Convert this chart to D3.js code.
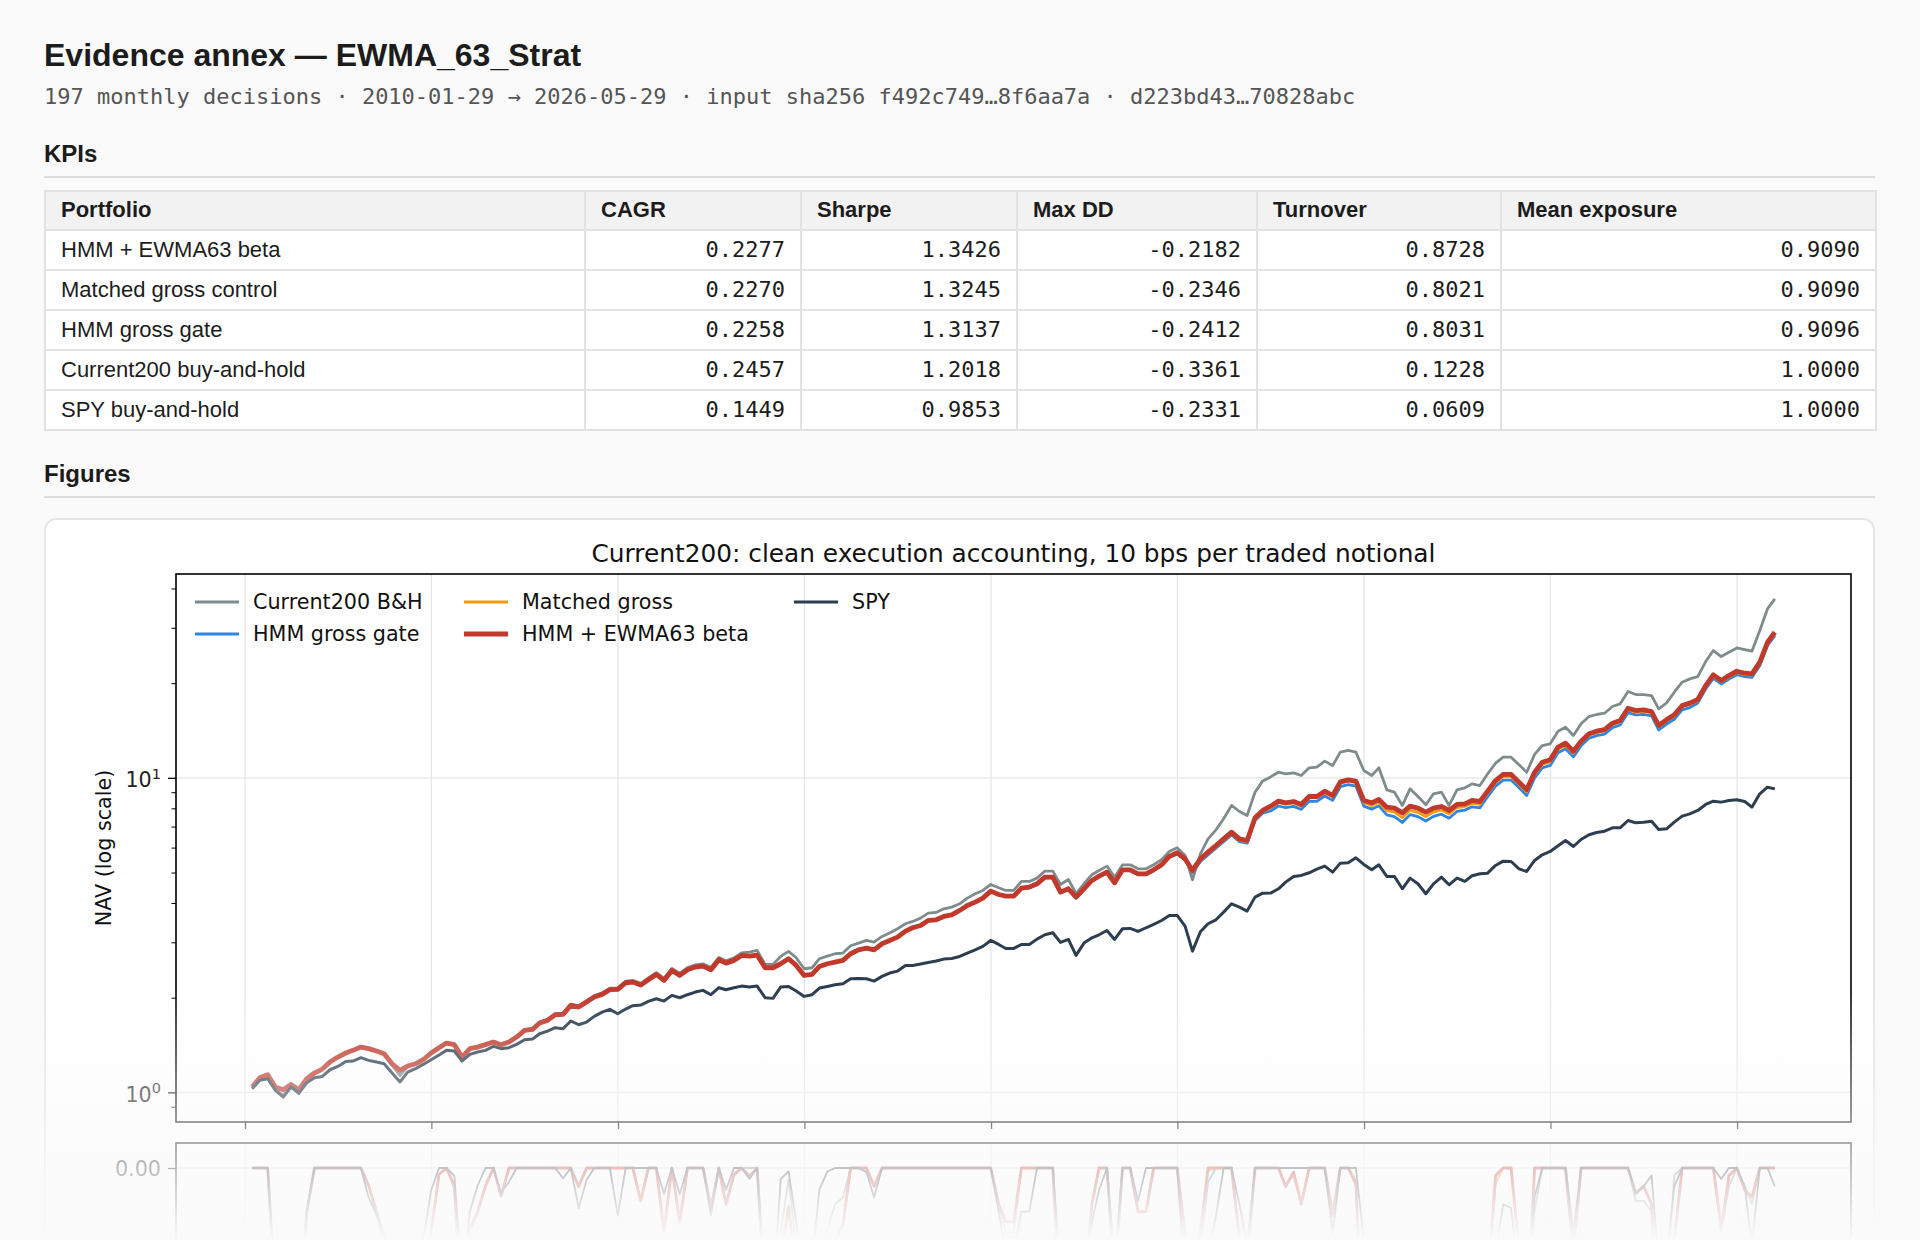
<!DOCTYPE html>
<html>
<head>
<meta charset="utf-8">
<script src="https://cdn.jsdelivr.net/npm/d3@7"></script>
<style>
html,body{margin:0;padding:0;background:#fafafa;width:1920px;height:1240px;overflow:hidden;}
body{position:relative;font-family:"Liberation Sans",Arial,Helvetica,sans-serif;color:#1c1c1c;}
#title{position:absolute;left:44px;top:35px;margin:0;font-size:32px;line-height:40px;font-weight:bold;white-space:nowrap;}
#sub{position:absolute;left:44px;top:83px;font-family:"DejaVu Sans Mono",monospace;font-size:22px;line-height:28px;color:#555;white-space:nowrap;}
h2{position:absolute;left:44px;margin:0;font-size:24px;line-height:30px;font-weight:bold;}
.hr{position:absolute;left:44px;width:1831px;height:2px;background:#dcdcdc;}
#kpi{position:absolute;left:44px;top:190px;width:1831px;border-collapse:collapse;table-layout:fixed;font-size:22px;background:#fff;}
#kpi th,#kpi td{border:2px solid #e2e2e2;padding:0 15px;line-height:24px;white-space:nowrap;}
#kpi th{background:#f2f2f2;text-align:left;font-weight:bold;height:35px;padding-bottom:2px;}
#kpi td{height:38px;}
#kpi td.num{text-align:right;font-family:"DejaVu Sans Mono",monospace;}
#card{position:absolute;left:44px;top:518px;width:1827px;height:900px;background:#fff;border:2px solid #e6e6e6;border-radius:12px;}
#chart{position:absolute;left:0;top:0;}
#fade{position:absolute;left:0;top:990px;width:1920px;height:250px;background:linear-gradient(to bottom,rgba(250,250,250,0),rgba(250,250,250,1));}
</style>
</head>
<body>
<h1 id="title">Evidence annex — EWMA_63_Strat</h1>
<div id="sub">197 monthly decisions · 2010-01-29 → 2026-05-29 · input sha256 f492c749…8f6aa7a · d223bd43…70828abc</div>
<h2 style="top:139px">KPIs</h2>
<div class="hr" style="top:176px"></div>
<table id="kpi"></table>
<h2 style="top:459px">Figures</h2>
<div class="hr" style="top:496px"></div>
<div id="card"></div>
<svg id="chart" width="1920" height="1240"></svg>
<div id="fade"></div>
<script>
// ---------------- data ----------------
const DATE_FIRST = "2010-01-29";
const DATE_LAST = "2026-05-29";
const N_MONTHS = 197;

const kpiColumns = ["Portfolio", "CAGR", "Sharpe", "Max DD", "Turnover", "Mean exposure"];
const kpiPortfolios = ["HMM + EWMA63 beta", "Matched gross control", "HMM gross gate", "Current200 buy-and-hold", "SPY buy-and-hold"];
const kpiCagr = [0.2277, 0.2270, 0.2258, 0.2457, 0.1449];
const kpiSharpe = [1.3426, 1.3245, 1.3137, 1.2018, 0.9853];
const kpiMaxDD = [-0.2182, -0.2346, -0.2412, -0.3361, -0.2331];
const kpiTurnover = [0.8728, 0.8021, 0.8031, 0.1228, 0.0609];
const kpiExposure = [0.9090, 0.9090, 0.9096, 1.0000, 1.0000];

const seriesNames = ["Current200 B&H", "HMM gross gate", "Matched gross", "HMM + EWMA63 beta", "SPY"];

const current200 = [1.035,1.110,1.135,1.025,0.978,1.050,0.990,1.100,1.150,1.186,
1.249,1.295,1.334,1.360,1.393,1.377,1.350,1.320,1.220,1.130,
1.205,1.230,1.270,1.334,1.387,1.440,1.420,1.270,1.380,1.397,
1.423,1.452,1.425,1.453,1.508,1.584,1.597,1.673,1.707,1.780,
1.786,1.907,1.884,1.956,2.030,2.071,2.144,2.150,2.258,2.270,
2.222,2.311,2.403,2.302,2.478,2.389,2.492,2.542,2.562,2.495,
2.686,2.622,2.676,2.776,2.793,2.827,2.552,2.552,2.705,2.806,
2.679,2.472,2.490,2.660,2.712,2.759,2.772,2.925,2.983,3.041,
3.005,3.132,3.210,3.313,3.436,3.495,3.581,3.714,3.733,3.834,
3.881,3.977,4.146,4.280,4.385,4.581,4.471,4.385,4.385,4.684,
4.684,4.799,5.050,5.050,4.581,4.753,4.280,4.604,4.918,5.076,
5.240,4.834,5.291,5.291,5.138,5.138,5.291,5.488,5.833,5.992,
5.664,4.741,5.733,6.399,6.834,7.408,8.169,7.816,7.591,9.004,
9.780,10.07,10.42,10.30,10.37,10.17,10.76,10.81,11.30,10.94,
12.07,12.22,12.07,10.55,10.17,10.76,9.160,9.004,8.169,9.226,
8.724,8.207,8.897,9.004,8.169,9.160,9.294,9.570,9.454,10.30,
11.13,11.63,11.63,11.00,10.42,11.87,12.67,12.83,14.07,14.49,
13.63,14.85,15.66,15.90,16.05,16.86,17.19,18.81,18.40,18.40,
18.27,16.57,17.31,18.72,20.14,20.64,20.99,23.43,25.39,24.30,
25.08,25.89,25.58,25.27,29.39,34.44,37.06];

const hmmGrossGate = [1.040,1.113,1.138,1.040,1.020,1.060,1.020,1.105,1.152,1.186,
1.249,1.295,1.334,1.360,1.393,1.377,1.353,1.327,1.233,1.175,
1.213,1.233,1.270,1.334,1.387,1.435,1.418,1.295,1.377,1.393,
1.418,1.445,1.418,1.445,1.499,1.574,1.586,1.661,1.694,1.765,
1.770,1.890,1.867,1.937,2.009,2.049,2.120,2.125,2.231,2.242,
2.193,2.281,2.371,2.270,2.442,2.354,2.454,2.502,2.520,2.454,
2.640,2.576,2.628,2.725,2.710,2.730,2.490,2.490,2.564,2.660,
2.533,2.354,2.371,2.514,2.564,2.596,2.628,2.759,2.840,2.875,
2.840,2.968,3.041,3.116,3.257,3.337,3.394,3.520,3.537,3.625,
3.669,3.787,3.929,4.026,4.146,4.363,4.258,4.207,4.207,4.460,
4.466,4.576,4.805,4.805,4.305,4.412,4.151,4.412,4.690,4.841,
4.984,4.610,5.070,5.070,4.923,4.923,5.070,5.259,5.589,5.742,
5.474,5.000,5.418,5.689,5.973,6.271,6.586,6.271,6.195,7.314,
7.718,7.844,8.137,8.037,8.116,7.941,8.419,8.419,8.754,8.479,
9.372,9.510,9.417,8.133,7.954,8.149,7.623,7.528,7.215,7.640,
7.528,7.289,7.544,7.663,7.442,7.818,7.896,8.091,8.032,8.708,
9.414,9.840,9.840,9.300,8.794,10.00,10.76,10.95,12.02,12.37,
11.66,12.66,13.36,13.62,13.78,14.44,14.72,16.12,15.85,15.92,
15.73,14.20,14.83,15.35,16.44,16.73,17.30,19.16,20.72,19.88,
20.61,21.28,20.97,20.87,22.74,26.31,28.31];

const matchedGross = [1.040,1.113,1.138,1.040,1.020,1.060,1.020,1.105,1.152,1.186,
1.249,1.295,1.334,1.360,1.393,1.377,1.353,1.327,1.233,1.175,
1.213,1.233,1.270,1.334,1.387,1.435,1.418,1.295,1.377,1.393,
1.418,1.445,1.418,1.445,1.499,1.574,1.586,1.661,1.694,1.765,
1.770,1.890,1.867,1.937,2.009,2.049,2.120,2.125,2.231,2.242,
2.193,2.281,2.371,2.270,2.442,2.354,2.454,2.502,2.520,2.454,
2.640,2.576,2.628,2.725,2.710,2.730,2.490,2.490,2.564,2.660,
2.533,2.354,2.371,2.514,2.564,2.596,2.628,2.759,2.840,2.875,
2.840,2.968,3.041,3.116,3.257,3.337,3.394,3.520,3.537,3.625,
3.669,3.787,3.929,4.026,4.146,4.363,4.258,4.207,4.207,4.460,
4.480,4.590,4.820,4.820,4.318,4.426,4.163,4.426,4.704,4.855,
4.999,4.624,5.086,5.086,4.938,4.938,5.086,5.275,5.606,5.760,
5.501,5.025,5.474,5.747,6.034,6.335,6.653,6.335,6.258,7.388,
7.796,8.047,8.348,8.246,8.326,8.147,8.637,8.637,8.980,8.699,
9.615,9.756,9.661,8.345,8.162,8.362,7.865,7.784,7.470,7.884,
7.768,7.530,7.784,7.906,7.678,8.048,8.103,8.303,8.242,8.935,
9.659,10.10,10.10,9.543,9.023,10.26,11.04,11.24,12.33,12.70,
11.97,12.95,13.66,13.93,14.10,14.77,15.06,16.48,16.21,16.29,
16.09,14.52,15.17,15.70,16.81,17.11,17.56,19.45,21.04,20.19,
20.93,21.61,21.29,21.20,23.09,26.71,28.75];

const hmmEwma63 = [1.040,1.113,1.138,1.040,1.020,1.060,1.020,1.105,1.152,1.186,
1.249,1.295,1.334,1.360,1.393,1.377,1.353,1.327,1.233,1.175,
1.213,1.233,1.270,1.334,1.387,1.435,1.418,1.295,1.377,1.393,
1.418,1.445,1.418,1.445,1.499,1.574,1.586,1.661,1.694,1.765,
1.770,1.890,1.867,1.937,2.009,2.049,2.120,2.125,2.231,2.242,
2.193,2.281,2.371,2.270,2.442,2.354,2.454,2.502,2.520,2.454,
2.640,2.576,2.628,2.725,2.710,2.730,2.490,2.490,2.564,2.660,
2.533,2.354,2.371,2.514,2.564,2.596,2.628,2.759,2.840,2.875,
2.840,2.968,3.041,3.116,3.257,3.337,3.394,3.520,3.537,3.625,
3.669,3.787,3.929,4.026,4.146,4.363,4.258,4.207,4.207,4.460,
4.493,4.604,4.834,4.834,4.331,4.439,4.176,4.439,4.718,4.870,
5.014,4.638,5.101,5.101,4.953,4.953,5.101,5.291,5.623,5.777,
5.529,5.076,5.529,5.805,6.095,6.399,6.720,6.399,6.321,7.463,
7.875,8.128,8.432,8.329,8.410,8.229,8.724,8.724,9.071,8.787,
9.712,9.855,9.759,8.472,8.329,8.533,8.067,8.008,7.741,8.128,
8.008,7.779,8.008,8.109,7.875,8.229,8.268,8.472,8.410,9.071,
9.806,10.25,10.25,9.688,9.160,10.42,11.21,11.41,12.52,12.89,
12.15,13.08,13.80,14.07,14.24,14.92,15.21,16.65,16.37,16.45,
16.25,14.67,15.32,15.86,16.98,17.28,17.74,19.65,21.25,20.39,
21.14,21.83,21.51,21.41,23.32,26.98,29.04];

const spy = [1.027,1.092,1.105,1.015,0.966,1.040,0.995,1.073,1.113,1.124,
1.180,1.209,1.254,1.258,1.289,1.264,1.249,1.233,1.152,1.079,
1.160,1.189,1.227,1.270,1.314,1.360,1.353,1.258,1.321,1.344,
1.360,1.400,1.377,1.387,1.421,1.470,1.477,1.536,1.566,1.605,
1.594,1.686,1.641,1.673,1.744,1.800,1.836,1.778,1.840,1.886,
1.895,1.946,1.985,1.951,2.034,1.999,2.044,2.084,2.110,2.044,
2.151,2.120,2.151,2.177,2.161,2.177,2.000,1.990,2.161,2.172,
2.099,2.019,2.044,2.146,2.172,2.199,2.215,2.297,2.303,2.297,
2.258,2.337,2.395,2.430,2.533,2.533,2.558,2.589,2.615,2.653,
2.666,2.705,2.772,2.840,2.911,3.041,2.953,2.868,2.868,2.953,
2.953,3.071,3.170,3.217,2.997,3.064,2.725,2.983,3.101,3.170,
3.272,3.064,3.313,3.321,3.249,3.337,3.419,3.520,3.652,3.652,
3.378,2.813,3.241,3.436,3.537,3.742,3.977,3.881,3.770,4.176,
4.300,4.301,4.439,4.660,4.858,4.894,4.990,5.126,5.240,5.014,
5.356,5.370,5.569,5.304,5.101,5.291,4.858,4.858,4.439,4.799,
4.604,4.280,4.604,4.834,4.571,4.799,4.684,4.882,4.953,4.977,
5.266,5.435,5.421,5.138,5.039,5.462,5.693,5.833,6.079,6.321,
6.050,6.368,6.591,6.703,6.768,6.935,6.935,7.318,7.194,7.229,
7.282,6.851,6.884,7.229,7.554,7.684,7.875,8.229,8.432,8.371,
8.472,8.513,8.410,8.067,8.897,9.340,9.226];

const chartTitle = "Current200: clean execution accounting, 10 bps per traded notional";
const yLabel = "NAV (log scale)";
const majorExps = [0, 1];

// ---------------- KPI table ----------------
const colWidths = [540, 216, 216, 240, 244, 375];
const kpiTable = d3.select("#kpi");
kpiTable.append("colgroup").selectAll("col").data(colWidths).join("col").style("width", d => d + "px");
kpiTable.append("thead").append("tr").selectAll("th").data(kpiColumns).join("th").text(d => d);
const rowsData = kpiPortfolios.map((p, i) => [p, kpiCagr[i], kpiSharpe[i], kpiMaxDD[i], kpiTurnover[i], kpiExposure[i]]);
kpiTable.append("tbody").selectAll("tr").data(rowsData).join("tr")
  .selectAll("td").data(d => d).join("td")
  .attr("class", (d, i) => i ? "num" : null)
  .text((d, i) => i ? d.toFixed(4) : d);

// ---------------- chart ----------------
const P = {l: 176, r: 1851, t: 574, b: 1122};
const D = {t: 1143, b: 1693};
const FONT = "DejaVu Sans, Verdana, sans-serif";
const FS = 20.7;
const svg = d3.select("#chart").style("font-family", FONT);

const parse = d3.timeParse("%Y-%m-%d");
const firstMonth = d3.timeMonth.floor(parse(DATE_FIRST));
const dates = d3.range(N_MONTHS).map(i => d3.timeDay.offset(d3.timeMonth.offset(firstMonth, i + 1), -1));
dates[0] = parse(DATE_FIRST);
dates[N_MONTHS - 1] = parse(DATE_LAST);

const series = [
  {name: seriesNames[0], values: current200, color: "#7f8c8d", w: 2.8, dw: 1.8},
  {name: seriesNames[1], values: hmmGrossGate, color: "#2e86de", w: 2.8, dw: 1.8},
  {name: seriesNames[2], values: matchedGross, color: "#f39c12", w: 2.8, dw: 1.8},
  {name: seriesNames[3], values: hmmEwma63, color: "#c0392b", w: 4.8, dw: 2.8},
  {name: seriesNames[4], values: spy, color: "#2c3e50", w: 3.0, dw: 1.8}
];

const t0 = +dates[0], t1 = +dates[N_MONTHS - 1], span = t1 - t0;
const x = d3.scaleTime().domain([new Date(t0 - 0.05 * span), new Date(t1 + 0.05 * span)]).range([P.l, P.r]);
const allVals = series.flatMap(s => s.values);
const lmin = Math.log10(d3.min(allVals)), lmax = Math.log10(d3.max(allVals));
const lpad = 0.05 * (lmax - lmin);
const y = d3.scaleLog().domain([Math.pow(10, lmin - lpad), Math.pow(10, lmax + lpad)]).range([P.b, P.t]);

const ddSeries = series.map(s => {
  let peak = -Infinity;
  return s.values.map(v => { peak = Math.max(peak, v); return v / peak - 1; });
});
const ddMin = d3.min(ddSeries.flat());
const dpad = 0.05 * Math.abs(ddMin);
const y2 = d3.scaleLinear().domain([ddMin - dpad, dpad]).range([D.b, D.t]);

const yearTicks = x.ticks(d3.timeYear.every(2));
const GRID = "#e6e6e6";

// chart title
svg.append("text").attr("x", (P.l + P.r) / 2).attr("y", 562).attr("text-anchor", "middle")
  .attr("font-size", 24.8).attr("fill", "#111").text(chartTitle);

// ---- top panel grid
const gTop = svg.append("g");
gTop.selectAll("line.vg").data(yearTicks).join("line")
  .attr("x1", d => x(d)).attr("x2", d => x(d)).attr("y1", P.t).attr("y2", P.b)
  .attr("stroke", GRID).attr("stroke-width", 1.3);
gTop.selectAll("line.hg").data(majorExps).join("line")
  .attr("x1", P.l).attr("x2", P.r).attr("y1", d => y(Math.pow(10, d))).attr("y2", d => y(Math.pow(10, d)))
  .attr("stroke", GRID).attr("stroke-width", 1.3);

// ---- top panel lines
const line = d3.line().x((d, i) => x(dates[i])).y(d => y(d));
gTop.selectAll("path.nav").data(series).join("path")
  .attr("fill", "none").attr("stroke", d => d.color).attr("stroke-width", d => d.w)
  .attr("stroke-linejoin", "round").attr("stroke-linecap", "butt")
  .attr("d", d => line(d.values));

// ---- y axis ticks (log)
const minorVals = [];
[-1, 0, 1].forEach(e => d3.range(2, 10).forEach(m => {
  const v = m * Math.pow(10, e);
  if (v >= y.domain()[0] && v <= y.domain()[1]) minorVals.push(v);
}));
const yAxisMinor = d3.axisLeft(y).tickValues(minorVals).tickSize(4.5).tickFormat("");
const yAxisMajor = d3.axisLeft(y).tickValues(majorExps.map(e => Math.pow(10, e))).tickSize(8).tickFormat("");
[yAxisMinor, yAxisMajor].forEach((ax, k) => {
  const g = svg.append("g").attr("transform", `translate(${P.l},0)`).call(ax);
  g.select(".domain").remove();
  g.selectAll("line").attr("stroke", "#000").attr("stroke-width", k ? 1.3 : 1);
});
const yLab = svg.append("g");
majorExps.forEach(e => {
  const t = yLab.append("text").attr("x", 161).attr("y", y(Math.pow(10, e)) + 9.5)
    .attr("text-anchor", "end").attr("font-size", FS).attr("fill", "#222");
  t.append("tspan").text("10");
  t.append("tspan").attr("dy", -8.5).attr("font-size", 14.5).text(String(e));
});
svg.append("text").attr("transform", `translate(111,${(P.t + P.b) / 2}) rotate(-90)`)
  .attr("text-anchor", "middle").attr("font-size", FS).attr("fill", "#111").text(yLabel);

// ---- x ticks (top panel, no labels)
const xAxTop = svg.append("g").attr("transform", `translate(0,${P.b})`)
  .call(d3.axisBottom(x).tickValues(yearTicks).tickSize(7).tickFormat(""));
xAxTop.select(".domain").remove();
xAxTop.selectAll("line").attr("stroke", "#000").attr("stroke-width", 1.3);

// ---- spines
svg.append("rect").attr("x", P.l).attr("y", P.t).attr("width", P.r - P.l).attr("height", P.b - P.t)
  .attr("fill", "none").attr("stroke", "#000").attr("stroke-width", 1.6);

// ---- legend (3 columns, column-major like matplotlib)
const legendPos = [
  {x: 195, y: 602}, {x: 195, y: 634},
  {x: 464, y: 602}, {x: 464, y: 634},
  {x: 794, y: 602}
];
const lg = svg.append("g").selectAll("g").data(series).join("g")
  .attr("transform", (d, i) => `translate(${legendPos[i].x},${legendPos[i].y})`);
lg.append("line").attr("x1", 0).attr("x2", 44).attr("y1", 0).attr("y2", 0)
  .attr("stroke", d => d.color).attr("stroke-width", d => d.w);
lg.append("text").attr("x", 58).attr("y", 7.3).attr("font-size", FS).attr("fill", "#111").text(d => d.name);

// ---- drawdown panel
svg.append("clipPath").attr("id", "ddclip").append("rect")
  .attr("x", P.l).attr("y", D.t).attr("width", P.r - P.l).attr("height", D.b - D.t);
const gDD = svg.append("g");
gDD.selectAll("line.vg").data(yearTicks).join("line")
  .attr("x1", d => x(d)).attr("x2", d => x(d)).attr("y1", D.t).attr("y2", D.b)
  .attr("stroke", GRID).attr("stroke-width", 1.3);
const ddTicks = y2.ticks(8);
gDD.selectAll("line.hg").data(ddTicks).join("line")
  .attr("x1", P.l).attr("x2", P.r).attr("y1", d => y2(d)).attr("y2", d => y2(d))
  .attr("stroke", GRID).attr("stroke-width", 1.3);
const ddLine = d3.line().x((d, i) => x(dates[i])).y(d => y2(d));
gDD.append("g").attr("clip-path", "url(#ddclip)").selectAll("path").data(series).join("path")
  .attr("fill", "none").attr("stroke", d => d.color).attr("stroke-width", d => d.dw)
  .attr("stroke-linejoin", "round").attr("d", (d, i) => ddLine(ddSeries[i]));
// tick marks for all ticks, labels only where they fit in the page
const ddAx = svg.append("g").attr("transform", `translate(${P.l},0)`)
  .call(d3.axisLeft(y2).tickValues(ddTicks).tickSize(8).tickFormat(""));
ddAx.select(".domain").remove();
ddAx.selectAll("line").attr("stroke", "#000").attr("stroke-width", 1.3);
svg.append("g").selectAll("text").data(ddTicks.filter(d => y2(d) + 12 < 1240)).join("text")
  .attr("x", 161).attr("y", d => y2(d) + 8).attr("text-anchor", "end")
  .attr("font-size", FS).attr("fill", "#222").text(d3.format(".2f"));
svg.append("rect").attr("x", P.l).attr("y", D.t).attr("width", P.r - P.l).attr("height", D.b - D.t)
  .attr("fill", "none").attr("stroke", "#000").attr("stroke-width", 1.6);
</script>
</body>
</html>
